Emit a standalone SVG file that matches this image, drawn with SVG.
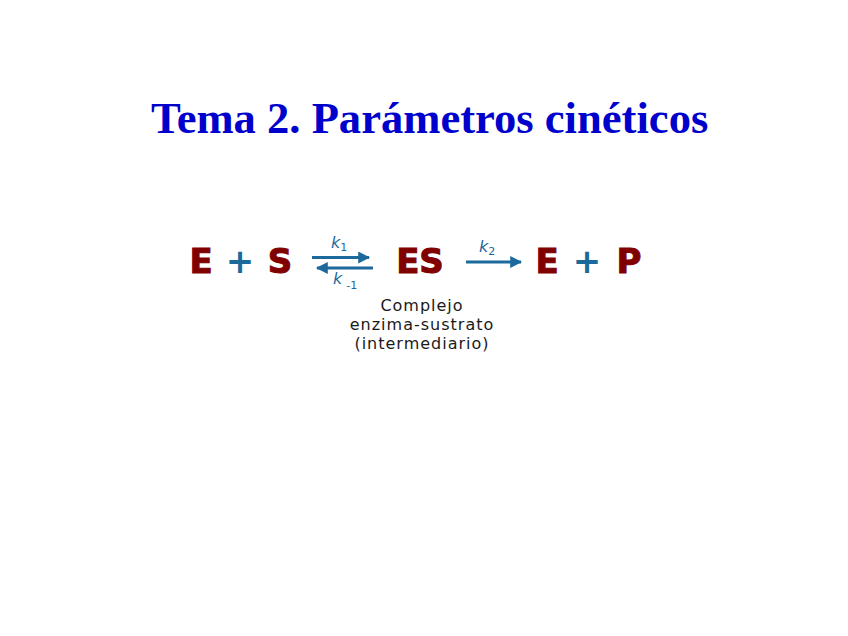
<svg xmlns="http://www.w3.org/2000/svg" width="848" height="636" viewBox="0 0 848 636">
<defs>
<marker id="ah" viewBox="0 0 10 10" refX="9" refY="5" markerWidth="4" markerHeight="4" markerUnits="strokeWidth" orient="auto-start-reverse">
<path d="M0,0 L10,5 L0,10 z" fill="#1c6a9c"/>
</marker>
<style>
.title{font-family:"Liberation Serif","Times New Roman",serif;font-weight:bold;font-size:44.6px;fill:#0000cc}
.sp{font-family:"DejaVu Sans",Verdana,sans-serif;font-weight:bold;font-size:34px;fill:#800000;stroke:#800000;stroke-width:1;text-anchor:middle}
.op{font-family:"DejaVu Sans",Verdana,sans-serif;font-weight:bold;font-size:34px;fill:#1c6a9c;text-anchor:middle}
.k{font-family:"DejaVu Sans",Verdana,sans-serif;font-style:italic;font-size:16px;fill:#1c6a9c}
.sub{font-style:normal;font-size:11px}
.lbl{font-family:"DejaVu Sans",Verdana,sans-serif;font-size:16px;letter-spacing:1px;fill:#1a1a1a;text-anchor:middle}
.arr{stroke:#1c6a9c;stroke-width:3;fill:none}
</style>
</defs>
<rect width="848" height="636" fill="#ffffff"/>
<g id="title"><text class="title" x="151" y="133">Tema 2. Parámetros cinéticos</text></g>
<g id="reactants">
<text class="sp" x="201" y="273">E</text>
<text class="op" x="240" y="273">+</text>
<text class="sp" x="280" y="273">S</text>
</g>
<g id="complex">
<text class="sp" x="420" y="273">ES</text>
</g>
<g id="products">
<text class="sp" x="547" y="273">E</text>
<text class="op" x="587" y="273">+</text>
<text class="sp" x="629" y="273">P</text>
</g>
<g id="complex-label">
<text class="lbl" x="422" y="311">Complejo</text>
<text class="lbl" x="422" y="330">enzima-sustrato</text>
<text class="lbl" x="422" y="349">(intermediario)</text>
</g>
<g id="connectors">
<line class="arr" x1="312" y1="257.5" x2="369" y2="257.5" marker-end="url(#ah)"/>
<line class="arr" x1="317" y1="268" x2="373" y2="268" marker-start="url(#ah)"/>
<line class="arr" x1="466" y1="262" x2="521" y2="262" marker-end="url(#ah)"/>
<text class="k" x="331" y="248">k<tspan class="sub" dy="3">1</tspan></text>
<text class="k" x="333" y="284">k<tspan class="sub" dx="4" dy="5">-1</tspan></text>
<text class="k" x="479" y="252">k<tspan class="sub" dy="3">2</tspan></text>
</g>
</svg>
